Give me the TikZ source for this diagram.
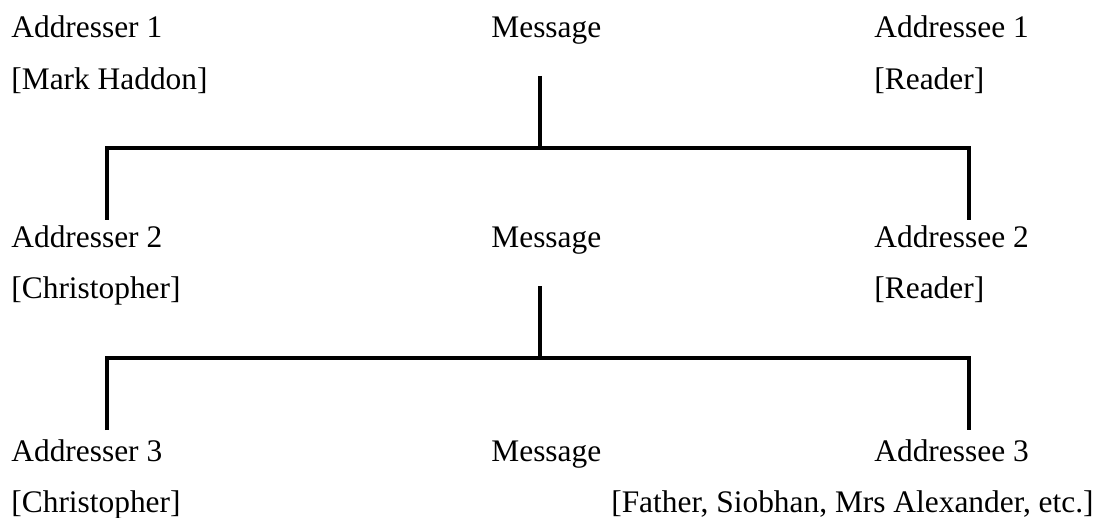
\documentclass[tikz,border=0pt]{standalone}
\usepackage{fontspec}
\setmainfont{Liberation Serif}
\usetikzlibrary{positioning}

\begin{document}
\begin{tikzpicture}[x=0.5pt, y=-0.5pt, lbl/.style={anchor=base west, inner sep=0pt, font=\fontsize{15.7}{18}\selectfont}, link/.style={line width=1.6pt}]
      \useasboundingbox (0,0) rectangle (1102,518);
      % level 1
      \node[lbl] (a1) at (11,38) {Addresser 1};
      \node[lbl] (n1) at (11,90) {[Mark Haddon]};
      \node[lbl] (m1) at (491,38) {Message};
      \node[lbl] (e1) at (874,38) {Addressee 1};
      \node[lbl] (r1) at (874,90) {[Reader]};
      % level 2
      \node[lbl] (a2) at (11,248) {Addresser 2};
      \node[lbl] (n2) at (11,299) {[Christopher]};
      \node[lbl] (m2) at (491,248) {Message};
      \node[lbl] (e2) at (874,248) {Addressee 2};
      \node[lbl] (r2) at (874,299) {[Reader]};
      % level 3
      \node[lbl] (a3) at (11,461) {Addresser 3};
      \node[lbl] (n3) at (11,512) {[Christopher]};
      \node[lbl] (m3) at (491,461) {Message};
      \node[lbl] (e3) at (874,461) {Addressee 3};
      \node[lbl, anchor=base east] (r3) at (1094,512) {[Father, Siobhan, Mrs Alexander, etc.]};

      \coordinate (t1) at (540,76);
      \coordinate (j1) at (540,148);
      \coordinate (l1) at (107,220);
      \coordinate (k1) at (969,220);
      \coordinate (t2) at (540,286);
      \coordinate (j2) at (540,358);
      \coordinate (l2) at (107,430);
      \coordinate (k2) at (969,430);

      \draw[link] (t1) -- (j1);
      \draw[link] (l1) |- (j1) -| (k1);
      \draw[link] (t2) -- (j2);
      \draw[link] (l2) |- (j2) -| (k2);
\end{tikzpicture}
\end{document}
